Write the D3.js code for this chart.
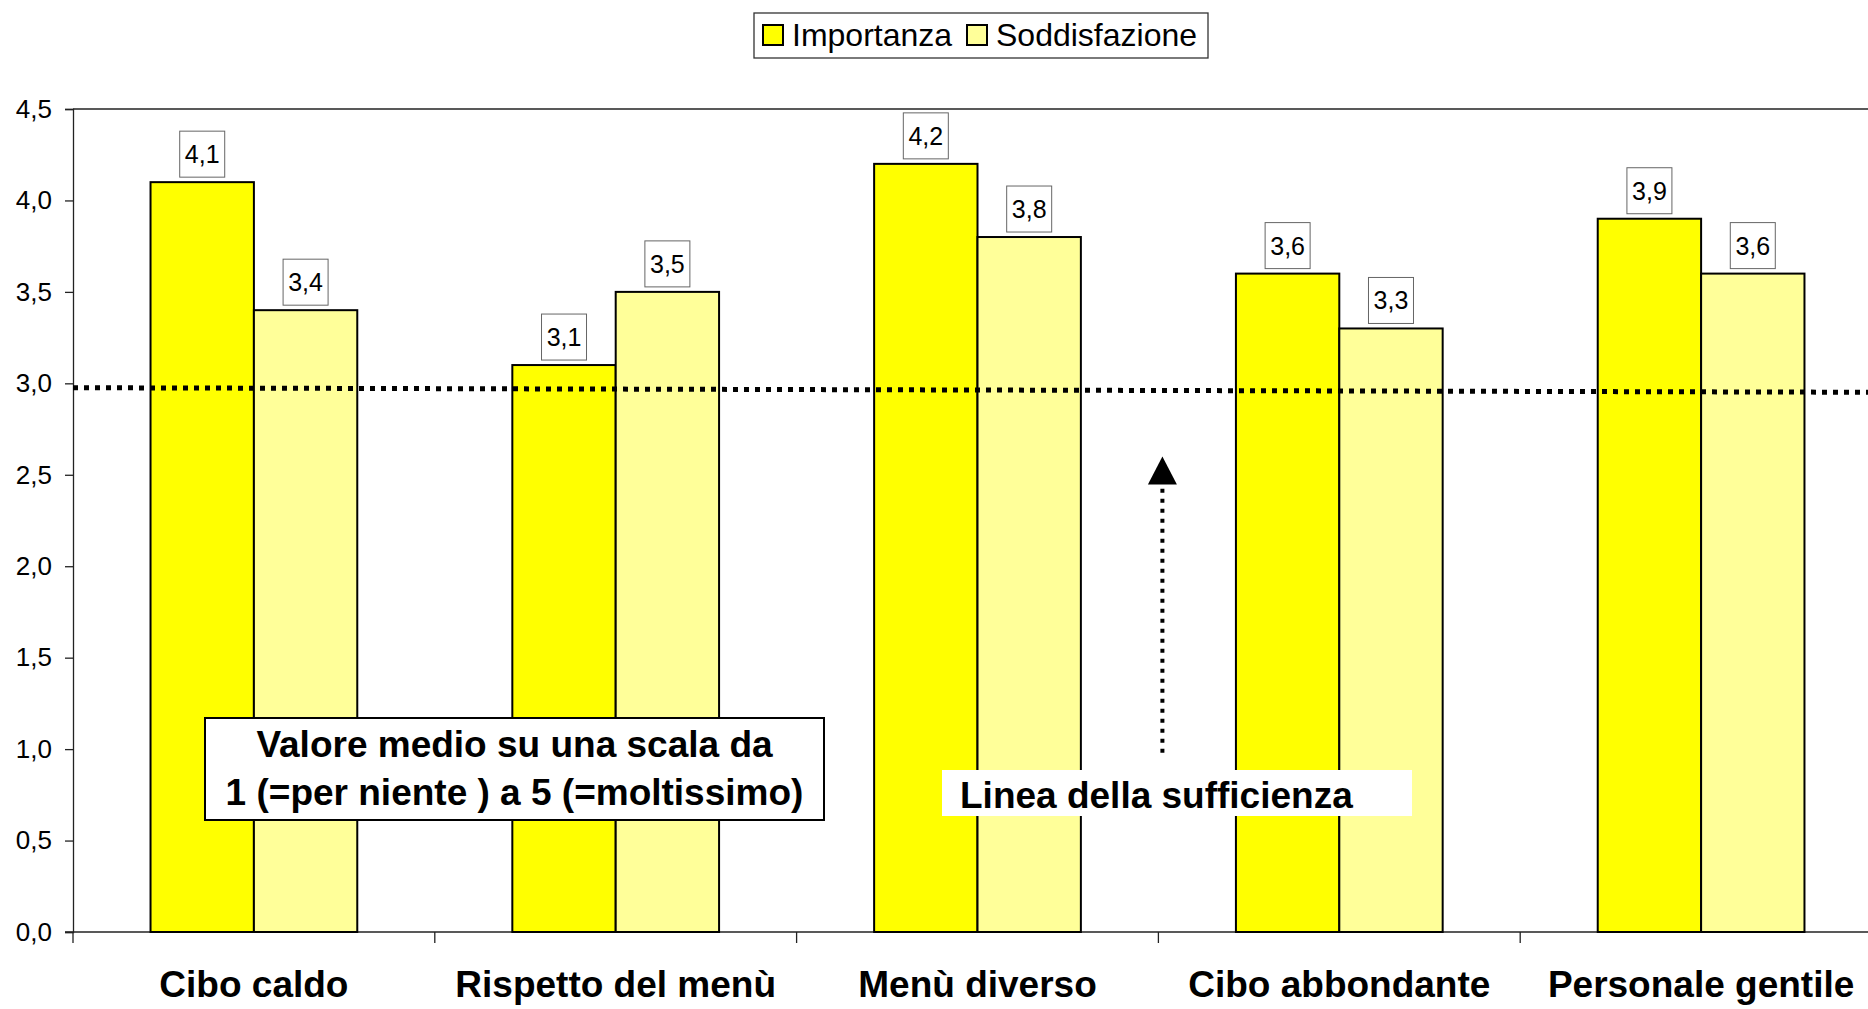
<!DOCTYPE html>
<html>
	<head>
		<meta charset="UTF-8" />
		<title>Importanza e soddisfazione</title>
		<style>
			html, body {
				margin: 0;
				padding: 0;
				overflow: hidden;
				background: #fff;
				font-family: "Liberation Sans", Arial, sans-serif;
			}
			.tick text {
				font-size: 26px;
				fill: #000;
			}
			.cat {
				font-size: 37px;
				font-weight: bold;
			}
			.note {
				font-size: 37px;
				font-weight: bold;
			}
		</style>
		<script src="https://d3js.org/d3.v7.min.js"></script>
	</head>
	<body>
		<svg></svg>
		<script>
			// data
			const categories = ['Cibo caldo', 'Rispetto del menù', 'Menù diverso', 'Cibo abbondante', 'Personale gentile'];
			const series = ['Importanza', 'Soddisfazione'];
			const importanza = [4.1, 3.1, 4.2, 3.6, 3.9];
			const soddisfazione = [3.4, 3.5, 3.8, 3.3, 3.6];
			const colors = ['#ffff00', '#ffff99'];
			const yTicks = [0, 0.5, 1, 1.5, 2, 2.5, 3, 3.5, 4, 4.5];
			// the hand drawn "linea della sufficienza", slightly tilted
			const sufficiency = [2.976, 2.951];
			const arrowValues = [0.98, 2.6];

			const width = 1868, height = 1009;
			const svg = d3.select('svg').attr('width', width).attr('height', height);

			const plotLeft = 73, plotRight = 1882, plotTop = 109, plotBottom = 932;

			const x = d3.scaleBand().domain(categories).range([plotLeft, plotRight]);
			const xs = d3.scaleBand().domain(series).range([0, x.bandwidth()]).paddingInner(0).paddingOuter(0.75);
			const y = d3.scaleLinear().domain([0, 4.5]).range([plotBottom, plotTop]);

			const fmt = v => d3.format('.1f')(v).replace('.', ',');

			// plot frame: top border
			svg.append('line')
				.attr('x1', plotLeft).attr('x2', plotRight)
				.attr('y1', plotTop).attr('y2', plotTop)
				.attr('stroke', '#222').attr('stroke-width', 1.3);

			// y axis
			const yAxis = svg.append('g')
				.attr('transform', `translate(${plotLeft},0)`)
				.call(d3.axisLeft(y).tickValues(yTicks).tickFormat(fmt).tickSize(8).tickPadding(13));
			yAxis.selectAll('line, path').attr('stroke', '#222').attr('stroke-width', 1.3);

			// x axis line + category boundary ticks
			svg.append('line')
				.attr('x1', plotLeft - 8).attr('x2', plotRight)
				.attr('y1', plotBottom).attr('y2', plotBottom)
				.attr('stroke', '#222').attr('stroke-width', 1.3);
			svg.append('g').selectAll('line')
				.data(categories)
				.enter().append('line')
				.attr('x1', d => x(d)).attr('x2', d => x(d))
				.attr('y1', plotBottom).attr('y2', plotBottom + 11)
				.attr('stroke', '#222').attr('stroke-width', 1.3);

			svg.append('g').selectAll('text')
				.data(categories)
				.enter().append('text')
				.attr('class', 'cat')
				.attr('x', d => x(d) + x.bandwidth() / 2)
				.attr('y', 997)
				.attr('text-anchor', 'middle')
				.text(d => d);

			// bars
			const rows = [];
			categories.forEach((c, i) => {
				rows.push({ cat: c, s: series[0], v: importanza[i], color: colors[0] });
				rows.push({ cat: c, s: series[1], v: soddisfazione[i], color: colors[1] });
			});

			svg.append('g').selectAll('rect')
				.data(rows)
				.enter().append('rect')
				.attr('x', d => x(d.cat) + xs(d.s))
				.attr('y', d => y(d.v))
				.attr('width', xs.bandwidth())
				.attr('height', d => y(0) - y(d.v))
				.attr('fill', d => d.color)
				.attr('stroke', '#000')
				.attr('stroke-width', 2);

			// data labels in boxes
			const lab = svg.append('g').selectAll('g')
				.data(rows)
				.enter().append('g')
				.attr('transform', d => `translate(${x(d.cat) + xs(d.s) + xs.bandwidth() / 2},${y(d.v) - 5})`);
			lab.append('rect')
				.attr('x', -22.5).attr('y', -46)
				.attr('width', 45).attr('height', 46)
				.attr('fill', '#fff')
				.attr('stroke', '#666').attr('stroke-width', 1);
			lab.append('text')
				.attr('y', -23)
				.attr('text-anchor', 'middle')
				.attr('dominant-baseline', 'central')
				.attr('font-size', 25)
				.text(d => fmt(d.v));

			// sufficiency line
			svg.append('line')
				.attr('x1', plotLeft).attr('x2', plotRight)
				.attr('y1', y(sufficiency[0])).attr('y2', y(sufficiency[1]))
				.attr('stroke', '#000')
				.attr('stroke-width', 5)
				.attr('stroke-dasharray', '5 6');

			// annotation box, lower left
			svg.append('rect')
				.attr('x', 205).attr('y', 718)
				.attr('width', 619).attr('height', 102)
				.attr('fill', '#fff')
				.attr('stroke', '#000').attr('stroke-width', 2);
			svg.append('text')
				.attr('class', 'note')
				.attr('x', 514.5).attr('y', 757)
				.attr('text-anchor', 'middle')
				.text('Valore medio su una scala da');
			svg.append('text')
				.attr('class', 'note')
				.attr('x', 514.5).attr('y', 805)
				.attr('text-anchor', 'middle')
				.text('1 (=per niente ) a 5 (=moltissimo)');

			// arrow pointing at the line
			const ax = x('Cibo abbondante') + 4;
			svg.append('line')
				.attr('x1', ax).attr('x2', ax)
				.attr('y1', y(arrowValues[0])).attr('y2', y(arrowValues[1]) + 30)
				.attr('stroke', '#000')
				.attr('stroke-width', 4)
				.attr('stroke-dasharray', '4 6');
			const tip = y(arrowValues[1]);
			svg.append('path')
				.attr('d', `M${ax},${tip} L${ax + 14.5},${tip + 28} L${ax - 14.5},${tip + 28} Z`)
				.attr('fill', '#000');

			svg.append('rect')
				.attr('x', 942).attr('y', 770)
				.attr('width', 470).attr('height', 46)
				.attr('fill', '#fff');
			svg.append('text')
				.attr('class', 'note')
				.attr('x', 960).attr('y', 808)
				.text('Linea della sufficienza');

			// legend
			const legend = svg.append('g');
			legend.append('rect')
				.attr('x', 754).attr('y', 13)
				.attr('width', 454).attr('height', 45)
				.attr('fill', '#fff')
				.attr('stroke', '#333').attr('stroke-width', 1.3);
			const legendX = [763, 967];
			const li = legend.selectAll('g.item')
				.data(series)
				.enter().append('g')
				.attr('class', 'item')
				.attr('transform', (d, i) => `translate(${legendX[i]},25)`);
			li.append('rect')
				.attr('width', 20).attr('height', 20)
				.attr('fill', (d, i) => colors[i])
				.attr('stroke', '#000').attr('stroke-width', 2);
			li.append('text')
				.attr('x', 29).attr('y', 21)
				.attr('font-size', 32)
				.text(d => d);
		</script>
	</body>
</html>
